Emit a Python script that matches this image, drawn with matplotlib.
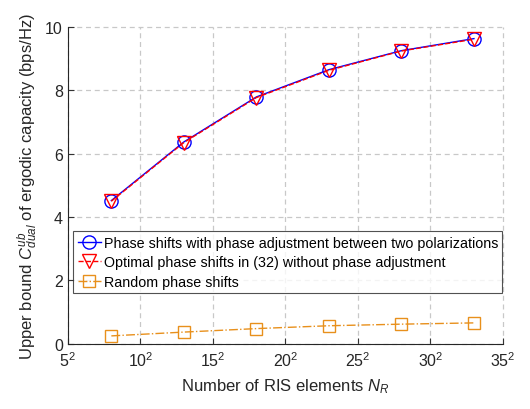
import matplotlib
matplotlib.use('Agg')
import matplotlib.pyplot as plt

# number of RIS elements per side, N_R = n^2
n_side = [8, 13, 18, 23, 28, 33]
cap_adjust = [4.52, 6.37, 7.79, 8.65, 9.25, 9.63]
cap_optimal = [4.50, 6.35, 7.77, 8.63, 9.24, 9.61]
cap_random = [0.25, 0.37, 0.48, 0.57, 0.62, 0.66]

x_ticks = [5, 10, 15, 20, 25, 30, 35]

plt.rcParams['font.family'] = ['Liberation Sans', 'DejaVu Sans']
plt.rcParams['mathtext.fontset'] = 'custom'
plt.rcParams['mathtext.it'] = 'Liberation Sans:italic'
plt.rcParams['mathtext.rm'] = 'Liberation Sans'

fig = plt.figure(figsize=(5.3, 4.1), dpi=100)
ax = fig.add_axes([0.128, 0.159, 0.821, 0.773])

ax.plot(n_side, cap_adjust, '-', color='blue', marker='o', markersize=9.5,
        markerfacecolor='none', linewidth=1,
        label='Phase shifts with phase adjustment between two polarizations')
ax.plot(n_side, cap_optimal, '--', color='red', marker='v', markersize=9.5,
        markerfacecolor='none', linewidth=1,
        label='Optimal phase shifts in (32) without phase adjustment')
ax.plot(n_side, cap_random, '-.', color='#E8901C', marker='s', markersize=8,
        markerfacecolor='none', linewidth=1, label='Random phase shifts')

ax.set_xlim(5, 35)
ax.set_ylim(0, 10)
ax.set_xticks(x_ticks)
ax.set_xticklabels([r'$\mathregular{%d^2}$' % t for t in x_ticks])
ax.set_yticks([0, 2, 4, 6, 8, 10])
ax.tick_params(labelsize=11.5, color='#333333', labelcolor='#262626',
               direction='in', length=4, top=False, right=False)
ax.tick_params(axis='x', pad=5)
ax.grid(True, linestyle=(0, (4, 3)), color='#c8c8c8', linewidth=0.9)
for gl in ax.get_xgridlines() + ax.get_ygridlines():
    gl.set_clip_on(False)
ax.set_axisbelow(True)
for side in ['top', 'right']:
    ax.spines[side].set_visible(False)
for side in ['left', 'bottom']:
    ax.spines[side].set_color('#262626')

ax.set_xlabel(r'Number of RIS elements $N_R$', fontsize=12, color='#262626',
              labelpad=5)
ax.set_ylabel(r'Upper bound $C_{dual}^{ub}$ of ergodic capacity (bps/Hz)',
              fontsize=12, color='#262626')

leg = ax.legend(loc='upper left', bbox_to_anchor=(0.013, 0.355), fontsize=10.3,
                frameon=True, fancybox=False, handlelength=1.6,
                handletextpad=0.2, borderpad=0.3, labelspacing=0.4,
                borderaxespad=0)
leg.get_frame().set_edgecolor('#262626')
leg.get_frame().set_linewidth(0.8)

fig.savefig('out.png', dpi=100)
